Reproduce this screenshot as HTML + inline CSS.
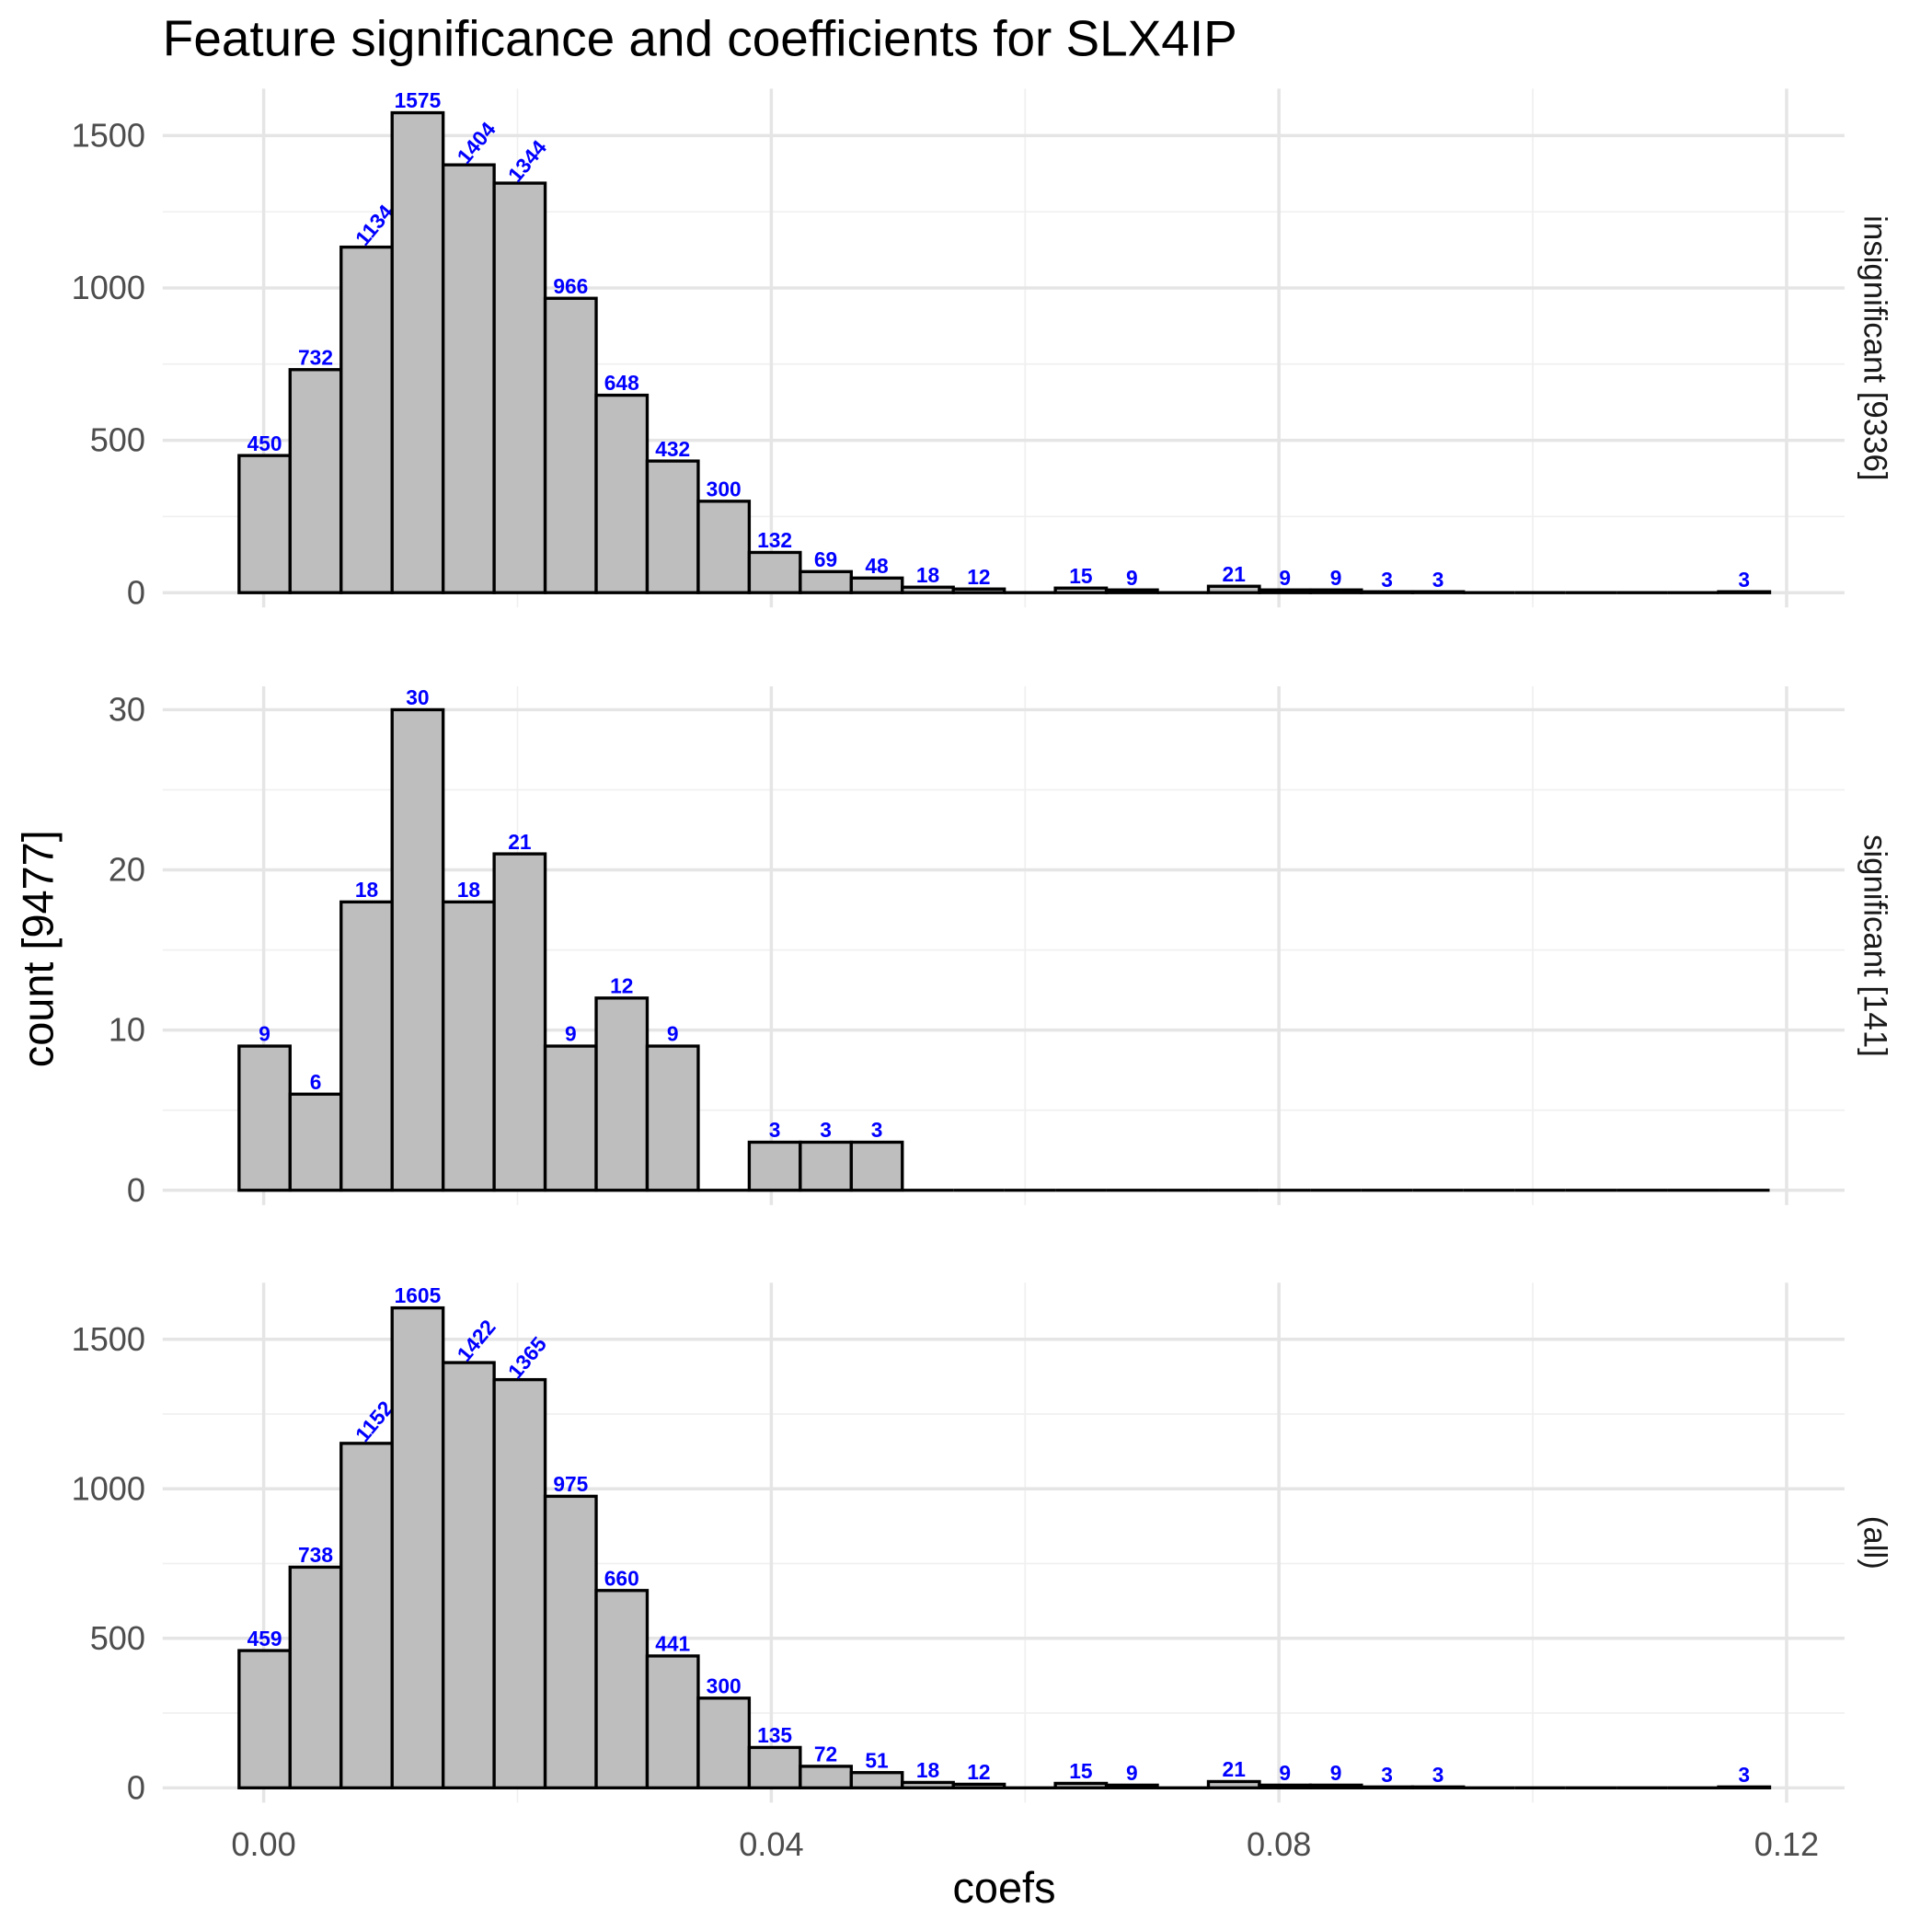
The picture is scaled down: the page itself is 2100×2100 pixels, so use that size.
<!DOCTYPE html>
<html><head><meta charset="utf-8"><style>
html,body{margin:0;padding:0;background:#fff;}
svg{display:block;font-family:"Liberation Sans",Arial,sans-serif;}
</style></head><body>
<svg id="chart" width="2100" height="2100" viewBox="0 0 1568 1568" xmlns="http://www.w3.org/2000/svg">
<text x="132" y="45" font-size="41" fill="#000">Feature significance and coefficients for SLX4IP</text>
<text x="815" y="1544" font-size="35" text-anchor="middle" fill="#000">coefs</text>
<text transform="translate(43,770) rotate(-90)" font-size="35" text-anchor="middle" fill="#000">count [9477]</text>
<g id="panels"></g>
</svg>
<script>
const binCenters = [0.00007,0.00409,0.00811,0.01213,0.01615,0.02017,0.02419,0.02821,0.03223,0.03625,0.04027,0.04429,0.04831,0.05233,0.05635,0.06037,0.06439,0.06841,0.07243,0.07645,0.08047,0.08449,0.08851,0.09253,0.09655,0.10057,0.10459,0.10861,0.11263,0.11665];
const insigCounts = [450,732,1134,1575,1404,1344,966,648,432,300,132,69,48,18,12,0,15,9,0,21,9,9,3,3,0,0,0,0,0,3];
const sigCounts = [9,6,18,30,18,21,9,12,9,0,3,3,3,0,0,0,0,0,0,0,0,0,0,0,0,0,0,0,0,0];
const allCounts = [459,738,1152,1605,1422,1365,975,660,441,300,135,72,51,18,12,0,15,9,0,21,9,9,3,3,0,0,0,0,0,3];
const xTicks = [0,0.04,0.08,0.12];
const xTickLabels = ["0.00","0.04","0.08","0.12"];
const xMinor = [0.02,0.06,0.1];
const panelNames = ["insignificant [9336]","significant [141]","(all)"];
const yTicksBig = [0,500,1000,1500];
const yMinorBig = [250,750,1250];
const yTicksSmall = [0,10,20,30];
const yMinorSmall = [5,15,25];
const binWidth = 0.00402;

const NS = "http://www.w3.org/2000/svg";
const root = document.getElementById("panels");
function mk(tag, attrs, parent){const e=document.createElementNS(NS,tag);for(const k in attrs)e.setAttribute(k,attrs[k]);parent.appendChild(e);return e;}
const xScale = v => 214 + v*10300;
const plotL = 132, plotR = 1497;

const panels = [
  {counts: insigCounts, top:72, bottom:493, zero:481, per:0.2473, ticks:yTicksBig, minor:yMinorBig, key:"insignificant"},
  {counts: sigCounts, top:557, bottom:978, zero:966, per:13, ticks:yTicksSmall, minor:yMinorSmall, key:"significant"},
  {counts: allCounts, top:1041, bottom:1463, zero:1451, per:0.2427, ticks:yTicksBig, minor:yMinorBig, key:"all"}
];

panels.forEach((p, pi) => {
  const g = mk("g", {}, root);
  
  
  const y = v => p.zero - v*p.per;
  p.minor.forEach(v => mk("line",{x1:plotL,x2:plotR,y1:y(v),y2:y(v),stroke:"#f0f0f0","stroke-width":1.3},g));
  xMinor.forEach(v => mk("line",{x1:xScale(v),x2:xScale(v),y1:p.top,y2:p.bottom,stroke:"#f0f0f0","stroke-width":1.3},g));
  p.ticks.forEach(v => {
    mk("line",{x1:plotL,x2:plotR,y1:y(v),y2:y(v),stroke:"#e5e5e5","stroke-width":2.6},g);
    const t = mk("text",{x:118,y:y(v)+9,"font-size":27,"text-anchor":"end",fill:"#4d4d4d"},g);
    t.textContent = v;
    
    
  });
  xTicks.forEach(v => mk("line",{x1:xScale(v),x2:xScale(v),y1:p.top,y2:p.bottom,stroke:"#e5e5e5","stroke-width":2.6},g));
  const maxC = Math.max(...p.counts);
  p.counts.forEach((c, i) => {
    const x0 = xScale(binCenters[i]-binWidth/2), x1 = xScale(binCenters[i]+binWidth/2);
    if (c > 0) {
      const r = mk("rect",{x:x0,y:y(c),width:x1-x0,height:p.zero-y(c),fill:"#bebebe",stroke:"#000","stroke-width":2.5},g);
      
      
    } else {
      const l = mk("line",{x1:x0,x2:x1,y1:p.zero,y2:p.zero,stroke:"#000","stroke-width":2.5},g);
      
      
    }
    if (c > 0) {
      const cx = (x0+x1)/2, ty = y(c) - 4;
      const t = mk("text",{"font-size":17,"font-weight":"bold",fill:"#0000ff","text-anchor":"middle"},g);
      if (c >= 1000 && c !== maxC) {
        t.setAttribute("transform",`translate(${cx+6},${ty-14}) rotate(-50)`);
        t.setAttribute("x",0); t.setAttribute("y",6);
      } else { t.setAttribute("x",cx); t.setAttribute("y",ty); }
      t.textContent = c;
      
      
    }
  });
  const s = mk("text",{transform:`translate(1513,${(p.top+p.bottom)/2}) rotate(90)`,"font-size":26,"text-anchor":"middle",fill:"#1a1a1a"},g);
  s.textContent = panelNames[pi];
  
  
  if (pi === 2) {
    xTicks.forEach((v, j) => {
      const t = mk("text",{x:xScale(v),y:1506,"font-size":27,"text-anchor":"middle",fill:"#4d4d4d"},g);
      t.textContent = xTickLabels[j];
      
      
    });
  }
});
</script>
</body></html>
